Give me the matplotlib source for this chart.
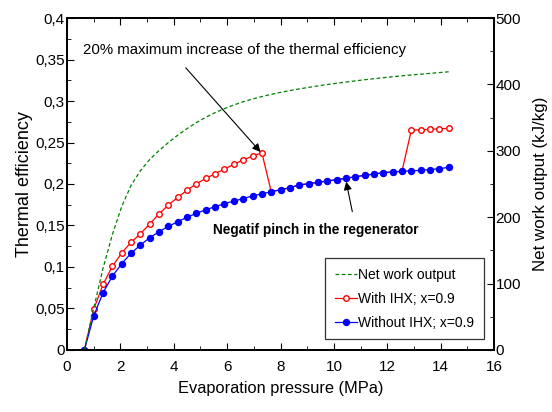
import matplotlib
matplotlib.use("Agg")
import matplotlib.pyplot as plt
from matplotlib.ticker import MultipleLocator, FuncFormatter

plt.rcParams["font.family"] = ["Liberation Sans", "DejaVu Sans"]

pressure = [0.65 + 0.35 * i for i in range(40)]

eff_no_ihx = [0.0, 0.041, 0.069, 0.089, 0.104, 0.1165, 0.1265, 0.1353, 0.1426, 0.149,
              0.1546, 0.160, 0.1647, 0.169, 0.1727, 0.1763, 0.1795, 0.1823, 0.1858, 0.188,
              0.1908, 0.193, 0.1956, 0.1988, 0.2004, 0.202, 0.2036, 0.2052, 0.2068, 0.2088,
              0.2104, 0.212, 0.2137, 0.2145, 0.2153, 0.2157, 0.2165, 0.2173, 0.2185, 0.2201]

eff_ihx = [0.0, 0.049, 0.079, 0.1008, 0.117, 0.1297, 0.140, 0.152, 0.164, 0.1747,
           0.184, 0.1926, 0.2002, 0.2068, 0.2124, 0.218, 0.2237, 0.229, 0.2337, 0.2377,
           0.1908, 0.193, 0.1956, 0.1988, 0.2004, 0.202, 0.2036, 0.2052, 0.2068, 0.2088,
           0.2104, 0.212, 0.2137, 0.2145, 0.2153, 0.2647, 0.2654, 0.2659, 0.2666, 0.267]

net_work = [0, 63, 123, 174, 216, 248, 270, 287, 300.5, 312.5,
            323.5, 333.5, 342.5, 350.5, 357.5, 363.6, 369, 373.8, 378, 381.7,
            385, 388, 390.7, 393.2, 395.5, 397.7, 399.8, 401.7, 403.5, 405.3,
            407, 408.6, 410.1, 411.5, 412.9, 414.2, 415.4, 416.6, 417.8, 419]

fig = plt.figure(figsize=(5.52, 4.12), dpi=100)
ax = fig.add_axes([0.1214, 0.1505, 0.7736, 0.8058])
ax2 = ax.twinx()

l_net, = ax2.plot(pressure, net_work, color="#008000", linestyle="--", linewidth=0.9,
                  dashes=(3, 2), label="Net work output")
l_ihx, = ax.plot(pressure, eff_ihx, color="#ff0000", linewidth=0.9, marker="o",
                 markersize=4.0, markerfacecolor="white", markeredgecolor="#ff0000",
                 markeredgewidth=1.0, label="With IHX; x=0.9")
l_no, = ax.plot(pressure, eff_no_ihx, color="#0000ff", linewidth=0.9, marker="o",
                markersize=4.3, markerfacecolor="#0000ff", markeredgecolor="#0000ff",
                label="Without IHX; x=0.9")

ax.set_xlim(0, 16)
ax.set_ylim(0, 0.4)
ax2.set_ylim(0, 500)

comma = FuncFormatter(lambda v, p: ("%g" % round(v, 3)).replace(".", ","))
ax.xaxis.set_major_locator(MultipleLocator(2))
ax.xaxis.set_minor_locator(MultipleLocator(1))
ax.yaxis.set_major_locator(MultipleLocator(0.05))
ax.yaxis.set_minor_locator(MultipleLocator(0.025))
ax.yaxis.set_major_formatter(comma)
ax2.yaxis.set_major_locator(MultipleLocator(100))
ax2.yaxis.set_minor_locator(MultipleLocator(50))

ax.tick_params(axis="both", which="both", direction="in", labelsize=11)
ax.tick_params(axis="x", which="both", top=True, pad=7)
ax.tick_params(axis="y", which="both", pad=1.5)
ax.tick_params(which="major", length=5)
ax.tick_params(which="minor", length=3)
ax2.tick_params(axis="y", which="both", direction="in", labelsize=11, pad=1)
ax2.tick_params(which="major", length=5)
ax2.tick_params(which="minor", length=3)

for a in (ax, ax2):
    for s in a.spines.values():
        s.set_linewidth(1.3)

ax.set_xlabel("Evaporation pressure (MPa)", fontsize=11.8, labelpad=5)
ax.set_ylabel("Thermal efficiency", fontsize=13, labelpad=2)
ax2.set_ylabel("Net work output (kJ/kg)", fontsize=12.2, labelpad=9)

ax.text(0.6, 0.3614, "20% maximum increase of the thermal efficiency",
        fontsize=10.8, ha="left", va="center")
ax.annotate("", xy=(7.25, 0.2386), xytext=(4.45, 0.34),
            arrowprops=dict(arrowstyle="-|>", color="black", lw=0.8,
                            shrinkA=0, shrinkB=0, mutation_scale=12))
ax.annotate("", xy=(10.46, 0.2028), xytext=(10.69, 0.1667),
            arrowprops=dict(arrowstyle="-|>", color="black", lw=0.8,
                            shrinkA=0, shrinkB=0, mutation_scale=12))
ax.text(5.46, 0.1446, "Negatif pinch in the regenerator", fontsize=9.8,
        fontweight="bold", ha="left", va="center")

leg = ax.legend(handles=[l_net, l_ihx, l_no], loc="upper left",
                bbox_to_anchor=(0.604, 0.277), borderaxespad=0, fontsize=10,
                frameon=True, fancybox=False, edgecolor="black", handlelength=1.6,
                handletextpad=0.1, borderpad=0.7, labelspacing=0.72)
leg.get_frame().set_linewidth(0.9)

fig.savefig("out.png", dpi=100)
